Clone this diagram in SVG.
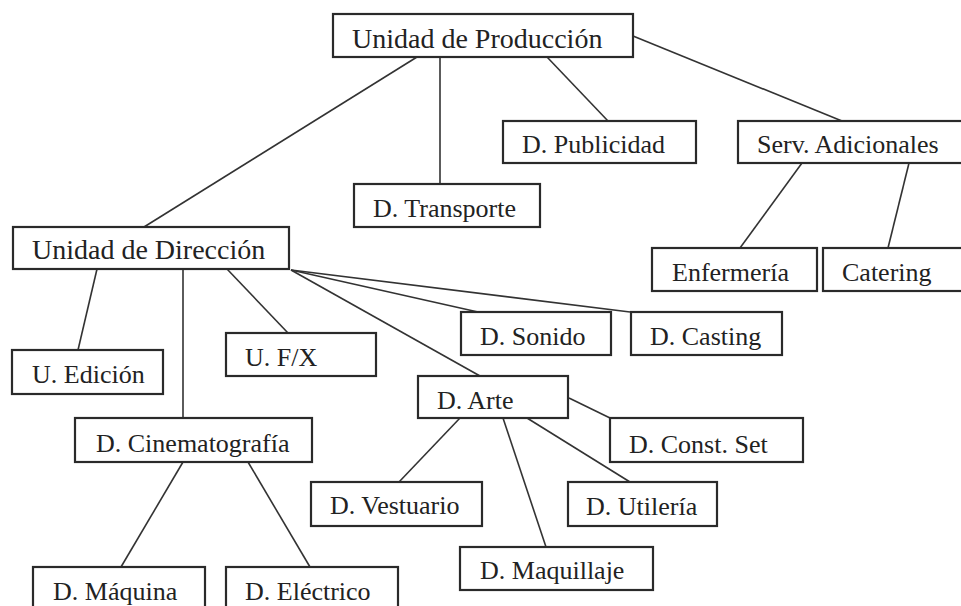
<svg xmlns="http://www.w3.org/2000/svg" width="961" height="606" viewBox="0 0 961 606">
<style>
.box{fill:#fff;stroke:#2a2a2a;stroke-width:2.2}
.t{font-family:"Liberation Serif","Times New Roman",serif;font-size:26px;fill:#222}
.big{font-size:28px}
.c line{stroke:#333;stroke-width:1.6}
</style>
<rect width="961" height="606" fill="#fff"/>
<g id="connectors" class="c">
<line x1="417" y1="57" x2="144" y2="227"/>
<line x1="440" y1="57" x2="440" y2="184"/>
<line x1="547" y1="57" x2="608" y2="121"/>
<line x1="633" y1="36" x2="842" y2="121"/>
<line x1="802" y1="163" x2="740" y2="248"/>
<line x1="909" y1="163" x2="888" y2="248"/>
<line x1="97" y1="269" x2="78" y2="350"/>
<line x1="183" y1="269" x2="183" y2="418"/>
<line x1="227" y1="269" x2="288" y2="333"/>
<line x1="291" y1="270" x2="480" y2="376"/>
<line x1="291" y1="270" x2="478" y2="312"/>
<line x1="291" y1="270" x2="630" y2="312"/>
<line x1="569" y1="398" x2="610" y2="418"/>
<line x1="527" y1="418" x2="630" y2="482"/>
<line x1="503" y1="418" x2="546" y2="547"/>
<line x1="460" y1="418" x2="399" y2="482"/>
<line x1="183" y1="462" x2="121" y2="567"/>
<line x1="248" y1="462" x2="310" y2="567"/>
</g>
<g id="n-produccion"><rect class="box" x="333" y="14" width="300" height="43"/><text class="t big" x="352" y="48">Unidad de Producción</text></g>
<g id="n-direccion"><rect class="box" x="13" y="227" width="276" height="42"/><text class="t big" x="32" y="259">Unidad de Dirección</text></g>
<g id="n-transporte"><rect class="box" x="354" y="184" width="186" height="43"/><text class="t" x="373" y="217">D. Transporte</text></g>
<g id="n-publicidad"><rect class="box" x="503" y="121" width="193" height="42"/><text class="t" x="522" y="153">D. Publicidad</text></g>
<g id="n-serv"><rect class="box" x="738" y="121" width="240" height="42"/><text class="t" x="757" y="153">Serv. Adicionales</text></g>
<g id="n-enfermeria"><rect class="box" x="652" y="248" width="165" height="43"/><text class="t" x="672" y="281">Enfermería</text></g>
<g id="n-catering"><rect class="box" x="823" y="248" width="155" height="43"/><text class="t" x="842" y="281">Catering</text></g>
<g id="n-edicion"><rect class="box" x="12" y="350" width="151" height="44"/><text class="t" x="32" y="383">U. Edición</text></g>
<g id="n-fx"><rect class="box" x="226" y="333" width="150" height="43"/><text class="t" x="245" y="366">U. F/X</text></g>
<g id="n-sonido"><rect class="box" x="461" y="312" width="150" height="43"/><text class="t" x="480" y="345">D. Sonido</text></g>
<g id="n-casting"><rect class="box" x="631" y="312" width="151" height="43"/><text class="t" x="650" y="345">D. Casting</text></g>
<g id="n-arte"><rect class="box" x="418" y="376" width="150" height="42"/><text class="t" x="437" y="409">D. Arte</text></g>
<g id="n-cine"><rect class="box" x="75" y="418" width="237" height="44"/><text class="t" x="96" y="452">D. Cinematografía</text></g>
<g id="n-constset"><rect class="box" x="610" y="418" width="193" height="44"/><text class="t" x="629" y="453">D. Const. Set</text></g>
<g id="n-vestuario"><rect class="box" x="311" y="482" width="171" height="44"/><text class="t" x="330" y="514">D. Vestuario</text></g>
<g id="n-utileria"><rect class="box" x="568" y="482" width="149" height="44"/><text class="t" x="586" y="515">D. Utilería</text></g>
<g id="n-maquillaje"><rect class="box" x="460" y="547" width="193" height="43"/><text class="t" x="480" y="579">D. Maquillaje</text></g>
<g id="n-maquina"><rect class="box" x="33" y="567" width="172" height="50"/><text class="t" x="53" y="600">D. Máquina</text></g>
<g id="n-electrico"><rect class="box" x="226" y="567" width="172" height="50"/><text class="t" x="245" y="600">D. Eléctrico</text></g>
</svg>
